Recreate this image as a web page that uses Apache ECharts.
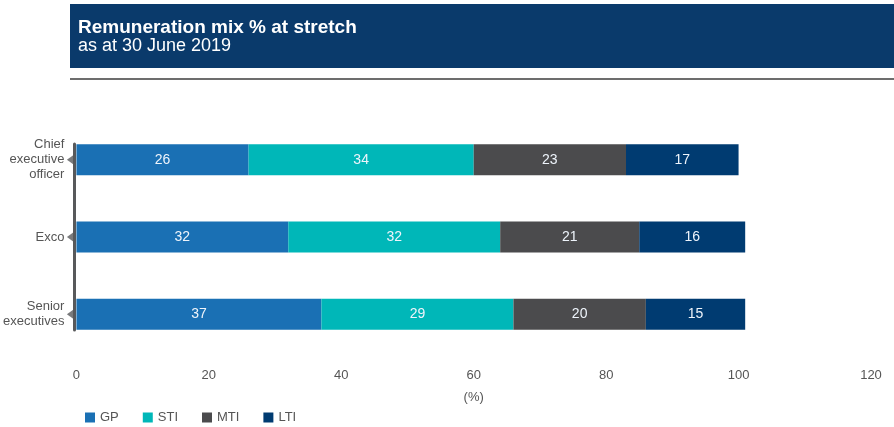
<!DOCTYPE html>
<html><head><meta charset="utf-8">
<script src="https://cdn.jsdelivr.net/npm/echarts@6/dist/echarts.min.js"></script>
<style>html,body{margin:0;padding:0;background:#fff}#c{width:894px;height:427px}</style>
</head><body><div id="c"></div>
<script>
const categories = ['Chief\nexecutive\nofficer', 'Exco', 'Senior\nexecutives'];
const seriesNames = ['GP', 'STI', 'MTI', 'LTI'];
const gp  = [26, 32, 37];
const sti = [34, 32, 29];
const mti = [23, 21, 20];
const lti = [17, 16, 15];
const xTicks = [0, 20, 40, 60, 80, 100, 120];
const colors = ['#1a70b4', '#00b7b8', '#4b4b4d', '#003b71'];
const values = [gp, sti, mti, lti];
const FONT = '"Liberation Sans", Arial, sans-serif';

const chart = echarts.init(document.getElementById('c'));
const barSeries = seriesNames.map((n, i) => ({
  name: n, type: 'bar', stack: 'total', barWidth: '40%',
  itemStyle: { color: colors[i], borderWidth: 0 },
  label: { show: true, position: 'inside', color: '#eef4fb', fontSize: 14, fontFamily: FONT },
  data: values[i],
  xAxisIndex: 0, yAxisIndex: 0
}));
chart.setOption({
  animation: false,
  graphic: [
    { type: 'rect', shape: { x: 70, y: 4, width: 824, height: 64 }, style: { fill: '#0a3a6b' } },
    { type: 'rect', shape: { x: 70, y: 78, width: 824, height: 2 }, style: { fill: '#6d6d6d' } },
    { type: 'text', left: 78, top: 18, style: { text: 'Remuneration mix % at stretch', fill: '#fff', font: 'bold 19px "Liberation Sans", Arial, sans-serif' } },
    { type: 'text', left: 78, top: 37, style: { text: 'as at 30 June 2019', fill: '#fff', font: '18px "Liberation Sans", Arial, sans-serif' } }
  ],
  legend: {
    left: 80, top: 406, itemWidth: 10, itemHeight: 10, itemGap: 24, icon: 'rect',
    data: seriesNames,
    textStyle: { color: '#555', fontSize: 13, fontFamily: FONT }
  },
  grid: [
    { left: 74, right: 23, top: 121, bottom: 74 },
    { left: 74, right: 23, top: 144, bottom: 97 }
  ],
  xAxis: [
    { type: 'value', min: 0, max: 120, interval: 20, gridIndex: 0,
      name: '(%)', nameLocation: 'middle', nameGap: 38,
      nameTextStyle: { color: '#555', fontSize: 13, fontFamily: FONT },
      axisLabel: { color: '#555', fontSize: 13, fontFamily: FONT, margin: 16,
        formatter: v => xTicks.includes(v) ? String(v) : '' },
      axisLine: { show: false }, axisTick: { show: false }, splitLine: { show: false } },
    { type: 'value', gridIndex: 1, show: false, min: 0, max: 120 }
  ],
  yAxis: [
    { type: 'category', data: categories, inverse: true, gridIndex: 0,
      axisLine: { show: false }, axisTick: { show: false },
      axisLabel: { color: '#555', fontSize: 13, fontFamily: FONT, margin: 12, lineHeight: 15 } },
    { type: 'value', gridIndex: 1, min: 0, max: 1,
      axisLine: { show: true, onZero: false, lineStyle: { color: '#58595b', width: 3 } },
      axisLabel: { show: false }, axisTick: { show: false }, splitLine: { show: false } }
  ],
  series: barSeries.concat([{
    type: 'scatter', xAxisIndex: 0, yAxisIndex: 0, silent: true, clip: false,
    symbol: 'path://M0,7 L9,0 L9,14 Z', symbolSize: [9, 13], symbolOffset: [-5, 0],
    itemStyle: { color: '#58595b' }, z: 10,
    data: categories.map((c, i) => [0, i])
  }])
});
</script></body></html>
